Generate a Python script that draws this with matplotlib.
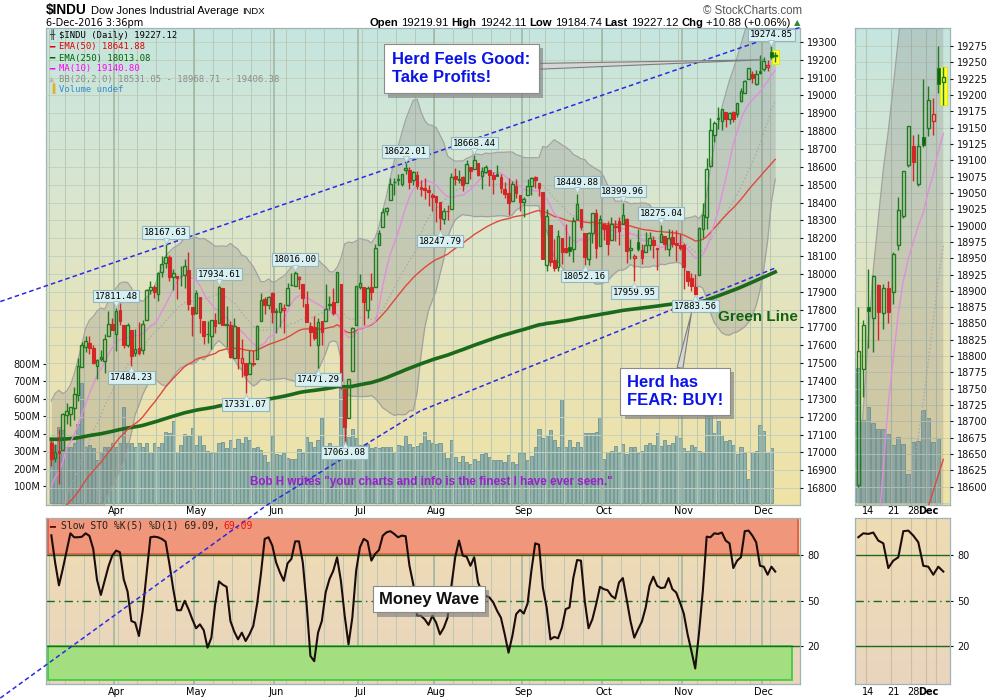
import numpy as np
import pandas as pd
import matplotlib
matplotlib.use("Agg")
from matplotlib import pyplot as plt
from matplotlib import patheffects as pe
from matplotlib.colors import LinearSegmentedColormap
from matplotlib.transforms import blended_transform_factory, offset_copy

plt.rcParams["font.family"] = "DejaVu Sans"

# ---------------- data ----------------
# trading days on the chart (NYSE holidays skipped)
holidays = ["2016-03-25", "2016-05-30", "2016-07-04", "2016-09-05", "2016-11-24"]
dates = pd.bdate_range("2016-03-08", "2016-12-06", freq="C", holidays=holidays)

opens = [
    # Mar
    17050, 16969, 17006, 17014, 17207, 17217, 17247, 17321, 17481, 17590, 17614, 17587, 17485, 17522, 17512, 17652, 17717,
    # Apr
    17661, 17799, 17716, 17604, 17687, 17555, 17586, 17571, 17741, 17912, 17926, 17890, 18012, 18059, 18092, 17985, 17990, 17987, 17996, 18023, 17813,
    # May
    17783, 17870, 17735, 17664, 17650, 17743, 17726, 17919, 17712, 17711, 17531, 17701, 17502, 17501, 17437, 17500, 17525, 17736, 17860, 17826, 17891,
    # Jun
    17789, 17789, 17799, 17825, 17936, 17931, 17969, 17946, 17830, 17710, 17703, 17602, 17734, 17736, 17827, 17844, 17844, 17946, 17355, 17190, 17456, 17712,
    # Jul
    17924, 17925, 17800, 17925, 17924, 18160, 18262, 18353, 18414, 18514, 18529, 18503, 18582, 18583, 18525, 18554, 18486, 18479, 18470, 18442,
    # Aug
    18434, 18401, 18307, 18355, 18362, 18548, 18529, 18542, 18507, 18598, 18586, 18621, 18547, 18573, 18584, 18552, 18559, 18541, 18473, 18455, 18409, 18495, 18442,
    # Sep
    18401, 18440, 18492, 18541, 18508, 18459, 18050, 18272, 18078, 18036, 18204, 18146, 18149, 18139, 18305, 18364, 18229, 18085, 18230, 18339, 18154,
    # Oct
    18279, 18275, 18188, 18265, 18295, 18282, 18308, 18132, 18088, 18177, 18135, 18125, 18162, 18189, 18140, 18176, 18215, 18139, 18207, 18173, 18163,
    # Nov
    18161, 18017, 17979, 17928, 17994, 18252, 18317, 18603, 18781, 18876, 18858, 18909, 18866, 18905, 18898, 18970, 19014, 19093, 19122, 19063, 19135,
    # Dec
    19150, 19160, 19242, 19219.91,
]
highs = [
    17072, 17048, 17130, 17220, 17275, 17252, 17364, 17529, 17620, 17650, 17654, 17603, 17521, 17575, 17664, 17790, 17751,
    17811.48, 17839, 17716, 17724, 17687, 17694, 17731, 17744, 17918, 17962, 17939, 18009, 18103, 18167.63, 18107, 18026, 17990, 18043, 18084, 18123, 17814,
    17912, 17870, 17738, 17736, 17744, 17783, 17934.61, 17919, 17821, 17734, 17755, 17701, 17633, 17501, 17571, 17571, 17714, 17891, 17871, 17874, 17899,
    17809, 17839, 17833, 17949, 18003, 18016.00, 17987, 17946, 17902, 17733, 17762, 17754, 17734, 17946, 17877, 17920, 18012, 17946, 17355, 17410, 17704, 17930,
    18002, 17925, 17934, 18005, 18166, 18248, 18370, 18373, 18537, 18539, 18560, 18561, 18622.01, 18600, 18574, 18575, 18527, 18538, 18498, 18455,
    18434, 18401, 18367, 18384, 18564, 18593, 18583, 18551, 18638, 18598, 18668.44, 18621, 18600, 18609, 18584, 18570, 18612, 18560, 18513, 18538, 18519, 18534, 18442,
    18432, 18534, 18541, 18549, 18508, 18459, 18366, 18272, 18196, 18246, 18204, 18280, 18211, 18318, 18449.88, 18364, 18229, 18236, 18340, 18365, 18331,
    18279, 18294, 18319, 18302, 18318, 18399.96, 18312, 18197, 18110, 18253, 18169, 18237, 18234, 18211, 18146, 18275.04, 18215, 18250, 18244, 18244, 18222,
    18173, 18017, 18006, 18000, 18264, 18400, 18650, 18875, 18856, 18934, 18925, 18910, 18910, 18915, 18960, 19043, 19084, 19153, 19138, 19140, 19225,
    19214, 19196, 19274.85, 19242.11,
]
lows = [
    16921, 16947, 16821, 17014, 17159, 17148, 17180, 17290, 17481, 17565, 17553, 17497, 17412, 17511, 17447, 17652, 17684,
    17569, 17713, 17584, 17588, 17484.23, 17538, 17547, 17553, 17741, 17885, 17867, 17848, 17984, 18031, 17963, 17909, 17860, 17931, 17920, 17799, 17651,
    17773, 17670, 17609, 17615, 17580, 17668, 17726, 17711, 17590, 17531, 17531, 17469, 17420, 17331.07, 17437, 17484, 17525, 17736, 17773, 17806, 17724,
    17668, 17703, 17669, 17822, 17936, 17931, 17915, 17812, 17731, 17595, 17629, 17471.29, 17602, 17736, 17799, 17770, 17844, 17356, 17063.08, 17190, 17456, 17711,
    17916, 17713, 17752, 17853, 17924, 18160, 18262, 18330, 18414, 18443, 18497, 18491, 18560, 18478, 18500, 18473, 18436, 18420, 18381, 18354,
    18293, 18247.79, 18280, 18300, 18362, 18500, 18512, 18463, 18507, 18534, 18586, 18550, 18476, 18567, 18491, 18448, 18547, 18453, 18423, 18330, 18409, 18428, 18354,
    18319, 18440, 18440, 18483, 18438, 18085, 18019, 18044, 18015, 18016, 18058, 18115, 18102, 18069, 18305, 18248, 18052.16, 18049, 18172, 18090, 18154,
    18192, 18108, 18188, 18185, 18163, 18282, 18061, 18082, 17959.95, 18130, 18055, 18125, 18135, 18089, 18023, 18176, 18133, 18100, 18151, 18072, 18134,
    17917, 17931, 17905, 17883.56, 17994, 18200, 18252, 18600, 18737, 18813, 18806, 18825, 18842, 18851, 18880, 18962, 19011, 19090, 19069, 19060, 19120,
    19137, 19139, 19203, 19184.74,
]
closes = [
    16964.10, 17000.36, 16995.13, 17213.31, 17229.13, 17251.53, 17325.76, 17481.49, 17602.30, 17623.87, 17582.57, 17502.59, 17515.73, 17535.39, 17633.11, 17716.66, 17685.09,
    17792.75, 17737.00, 17603.32, 17716.05, 17541.96, 17576.96, 17556.41, 17721.25, 17908.28, 17926.43, 17897.46, 18004.16, 18053.60, 18096.27, 17982.52, 18003.75, 17977.24, 17990.32, 18041.55, 17830.76, 17773.64,
    17891.16, 17750.91, 17651.26, 17660.71, 17740.63, 17705.91, 17928.35, 17711.12, 17720.50, 17535.32, 17710.71, 17529.98, 17526.62, 17435.40, 17500.94, 17492.93, 17706.05, 17851.51, 17828.29, 17873.22, 17787.20,
    17789.67, 17838.56, 17807.06, 17920.33, 17938.28, 18005.05, 17985.19, 17865.34, 17732.48, 17674.82, 17640.17, 17733.10, 17675.16, 17804.87, 17829.73, 17780.83, 18011.07, 17400.75, 17140.24, 17409.72, 17694.68, 17929.99,
    17949.37, 17840.62, 17918.62, 17895.88, 18146.74, 18226.93, 18347.67, 18372.12, 18506.41, 18516.55, 18533.05, 18559.01, 18595.03, 18517.23, 18570.85, 18493.06, 18473.75, 18472.17, 18456.35, 18432.24,
    18404.51, 18313.77, 18355.00, 18352.05, 18543.53, 18529.29, 18533.05, 18495.66, 18613.52, 18576.47, 18636.05, 18552.02, 18573.94, 18597.70, 18552.57, 18529.42, 18547.30, 18481.48, 18448.41, 18395.40, 18502.99, 18454.30, 18400.88,
    18419.30, 18491.96, 18538.12, 18526.14, 18479.91, 18085.45, 18325.07, 18066.75, 18034.77, 18212.48, 18123.80, 18120.17, 18129.96, 18293.70, 18392.46, 18261.45, 18094.83, 18228.30, 18339.24, 18143.45, 18308.15,
    18253.85, 18168.45, 18281.03, 18268.50, 18240.49, 18329.04, 18128.66, 18144.20, 18098.94, 18138.38, 18086.40, 18161.94, 18202.62, 18162.35, 18145.71, 18223.03, 18169.27, 18199.33, 18169.68, 18161.19, 18142.42,
    18037.10, 17959.64, 17930.67, 17888.28, 18259.60, 18332.74, 18589.69, 18807.88, 18847.66, 18868.69, 18923.06, 18868.14, 18903.82, 18867.93, 18956.69, 19023.87, 19083.18, 19152.14, 19097.90, 19121.60, 19123.58,
    19191.93, 19170.42, 19216.24, 19227.12,
]
# volume in millions, today's volume is undefined
volume_m = [
    364, 335, 440, 420, 326, 326, 345, 456, 689, 326, 335, 316, 250, 297, 326, 326, 348,
    326, 348, 551, 345, 348, 326, 348, 326, 348, 297, 348, 326, 345, 412, 406, 475, 297, 335, 400, 389, 433,
    335, 395, 335, 302, 290, 297, 345, 354, 316, 364, 316, 368, 345, 379, 364, 316, 322, 307, 280, 236, 389,
    286, 280, 290, 263, 257, 257, 311, 290, 379, 354, 322, 364, 488, 311, 345, 326, 290, 660, 440, 382, 426, 374,
    335, 335, 341, 316, 326, 316, 326, 322, 326, 297, 335, 330, 389, 341, 326, 330, 348, 412, 364, 345,
    341, 345, 297, 263, 364, 267, 239, 271, 236, 226, 257, 244, 286, 290, 267, 248, 248, 248, 239, 280, 239, 226, 290,
    290, 248, 271, 326, 425, 374, 395, 422, 364, 322, 597, 322, 364, 326, 354, 326, 406, 402, 406, 410, 494,
    252, 297, 302, 330, 290, 341, 286, 322, 322, 290, 302, 335, 345, 335, 406, 330, 364, 335, 345, 395, 374,
    316, 302, 335, 326, 302, 297, 600, 660, 406, 470, 390, 360, 362, 334, 285, 322, 288, 143, 295, 300, 452,
    414, 295, 317, np.nan,
]
# Slow STO %K(5) %D(1)
sto_k = [
    93, 75, 60, 70.8, 82.6, 94.3, 91.7, 91.7, 92, 94.3,
    92.6, 84, 63.5, 53.7, 63, 72.5, 79.6, 82.9, 81.8, 64,
    56, 36.5, 35.4, 26.6, 43.6, 67.4, 91.7, 92.1, 91.7, 90.6,
    88.8, 74, 57.5, 43.6, 43.6, 49.8, 44.3, 37.6, 31.7, 34.3,
    30.4, 18.9, 25.5, 47.6, 62.6, 60.4, 59, 36.5, 29.5, 24.4,
    28.8, 23.3, 27.7, 33.2, 47.6, 67.4, 90.6, 91.7, 86.2, 75.1,
    68.5, 63, 74.5, 77.4, 89, 89, 75.1, 47.6, 13.4, 10,
    28.8, 36.5, 55.3, 64.1, 69.6, 78.5, 63, 39.9, 21.1, 38.7,
    69.6, 85.1, 90.6, 89, 76.3, 80.7, 83.3, 92.8, 95, 95.7,
    93.9, 91.7, 92.8, 92.4, 72.9, 60.8, 40, 39.9, 37.6, 33.9,
    39.9, 35.4, 27.7, 32, 38.7, 59.7, 78.5, 89.5, 79.6, 78.9,
    72.9, 78.5, 61.9, 56, 53.1, 52, 48.7, 43.2, 38.7, 27.7,
    15.6, 26.6, 41, 43.8, 41.4, 48, 69.6, 87.7, 86.8, 58.6,
    45.4, 24.4, 26, 25.1, 32.1, 44.3, 45.4, 64.8, 76.7, 76.3,
    49.8, 31.7, 37.6, 47.6, 59, 57.5, 56.8, 53.1, 51.3, 61.9,
    64.8, 50.9, 36.5, 25.5, 31, 36.1, 45.4, 59.7, 65.7, 59.7,
    58.2, 58.6, 64.8, 57.5, 55.3, 48.7, 41.4, 27.7, 16.7, 5.2,
    28.8, 56.4, 92.1, 91.7, 94.3, 93.9, 94.8, 89.5, 87.7, 71.4,
    76.3, 78.5, 95.7, 96.1, 92.8, 88.4, 72.9, 72.3, 67, 72.3,
    69.09,
]
# closes before the window, only used to warm up MA(10) and BB(20)
closes_before = [16027.05, 16014.38, 15914.74, 15660.18, 15973.84, 16196.41, 16453.83, 16413.43, 16391.99, 16620.66,
                 16431.78, 16484.99, 16697.29, 16639.97, 16516.50, 16865.08, 16899.32, 16943.90, 17006.77, 17073.95]
ema50_start = 16620
ema250_start = 17075

peak_dates = ["2016-04-01", "2016-04-20", "2016-05-10", "2016-06-08", "2016-07-20", "2016-08-15",
              "2016-09-22", "2016-10-10", "2016-10-24", "2016-12-05"]
trough_dates = ["2016-04-07", "2016-05-19", "2016-06-16", "2016-06-27", "2016-08-02", "2016-09-26",
                "2016-10-13", "2016-11-04"]

# hand drawn trend lines (day position, price)
upper_trend_x = [-13.4, 197]
upper_trend_y = [17845, 19385]
lower_trend_x = [-13.4, 56.6, 96.8, 190]
lower_trend_y = [15623, 16705, 17232, 18033]

mini_days = 18
mini_ticks = [("2016-11-14", "14"), ("2016-11-21", "21"), ("2016-11-28", "28"), ("2016-12-01", "Dec")]

# ---------------- derived ----------------
n = len(closes)
x = np.arange(n)
o, h, l, c = (np.array(v, dtype=float) for v in (opens, highs, lows, closes))
vol = np.array(volume_m, dtype=float)
sto = np.array(sto_k, dtype=float)

allc = pd.Series(closes_before + closes)
k0 = len(closes_before)
ma10 = allc.rolling(10).mean().values[k0:]
bb_mid = allc.rolling(20).mean().values[k0:]
bb_sd = allc.rolling(20).std(ddof=0).values[k0:]
bb_up = bb_mid + 2 * bb_sd
bb_lo = bb_mid - 2 * bb_sd
ema50 = pd.Series([ema50_start] + closes).ewm(span=50, adjust=False).mean().values[1:]
ema250 = pd.Series([ema250_start] + closes).ewm(span=250, adjust=False).mean().values[1:]

wk = dates.isocalendar().week.values
week_starts = [i for i in range(n) if i == 0 or wk[i] != wk[i - 1]]
month_starts = [i for i in range(1, n) if dates[i].month != dates[i - 1].month]

GREEN = "#1e7b1e"
GREEN_FILL = "#0d650d"
RED = "#d42626"

# ---------------- figure ----------------
W, H = 1000, 700
fig = plt.figure(figsize=(W / 100, H / 100), dpi=100)
fig.patch.set_facecolor("white")
renderer = fig.canvas.get_renderer()


def frame(x0, y0, x1, y1):
    return [x0 / W, 1 - y1 / H, (x1 - x0) / W, (y1 - y0) / H]


def background(ax, colors):
    cmap = LinearSegmentedColormap.from_list("bg", colors)
    ax.imshow(np.linspace(0, 1, 256).reshape(-1, 1), cmap=cmap, aspect="auto",
              extent=[0, 1, 0, 1], transform=ax.transAxes, zorder=0, interpolation="bilinear")


def vgrid(ax, lo, hi):
    for i in week_starts:
        if lo <= i <= hi:
            ax.axvline(i - 0.5, color="#b9c8b6", lw=0.7, zorder=0.6)
    for i in month_starts:
        if lo <= i <= hi:
            ax.axvline(i - 0.5, color="#9fb49f", lw=1.1, zorder=0.6)


def style(ax, edge="#9eb4b8"):
    for sp in ax.spines.values():
        sp.set_color(edge)
        sp.set_linewidth(0.9)
    ax.tick_params(axis="x", bottom=False, labelbottom=False)


def draw_candles(ax, s, width, shift=0):
    xs = x[s] - shift
    oo, hh, ll, cc = o[s], h[s], l[s], c[s]
    prev = np.r_[o[0], c[:-1]][s]
    up = cc >= prev
    edge = np.where(up, GREEN, RED)
    top = np.maximum(oo, cc)
    bot = np.minimum(oo, cc)
    ax.vlines(xs, top, hh, colors=edge, lw=1, zorder=4)
    ax.vlines(xs, ll, bot, colors=edge, lw=1, zorder=4)
    body = np.maximum(top - bot, 1.5)
    hollow = cc >= oo
    fill = np.where(up, GREEN_FILL, RED)
    ax.bar(xs[hollow], body[hollow], bottom=bot[hollow], width=width, facecolor="none",
           edgecolor=edge[hollow], lw=1, zorder=4)
    ax.bar(xs[~hollow], body[~hollow], bottom=bot[~hollow], width=width, color=fill[~hollow],
           edgecolor=edge[~hollow], lw=0.8, zorder=4)


def draw_volume(ax, s, shift=0):
    vv = vol[s]
    ok = np.isfinite(vv)
    ax.bar((x[s] - shift)[ok], vv[ok], width=0.82, color="#93b4ae", edgecolor="#6d948e", lw=0.6, zorder=2)


def draw_indicators(ax, s, shift=0):
    xs = x[s] - shift
    ax.fill_between(xs, bb_lo[s], bb_up[s], color="#7f7f7f", alpha=0.26, lw=0, zorder=1)
    ax.plot(xs, bb_up[s], color="#a2a2a2", lw=0.9, zorder=1.2)
    ax.plot(xs, bb_lo[s], color="#a2a2a2", lw=0.9, zorder=1.2)
    ax.plot(xs, bb_mid[s], color="#a9a9a9", lw=1, ls=":", zorder=1.2)
    ax.plot(xs, ema250[s], color="#1b6a1b", lw=2.6, zorder=2)
    ax.plot(xs, ema50[s], color="#e0483e", lw=1, zorder=2)
    ax.plot(xs, ma10[s], color="#e28ede", lw=1, zorder=2)


def text_runs(x_px, y_px, runs, align="left", gap=3):
    items = [fig.text(0, 1 - y_px / H, s, va="baseline", zorder=10, **kw) for s, kw in runs]
    widths = [t.get_window_extent(renderer).width for t in items]
    total = sum(widths) + gap * (len(items) - 1)
    cur = x_px - total if align == "right" else x_px
    for t, w in zip(items, widths):
        t.set_x(cur / W)
        cur += w + gap


def date_labels(ax, positions, labels, y_px, bold=()):
    tr = blended_transform_factory(ax.transData, fig.transFigure)
    for p, s in zip(positions, labels):
        ax.text(p, 1 - y_px / H, s, transform=tr, ha="center", va="center", fontsize=7,
                weight="bold" if s in bold else "normal", clip_on=False, zorder=10)


def flag(ax, i, value, above):
    dy = 5 if above else -5
    ax.annotate(f"{value:.2f}", xy=(i, value), xytext=(0, dy), textcoords="offset points",
                ha="center", va="bottom" if above else "top", fontsize=6.5, family="DejaVu Sans Mono",
                bbox=dict(boxstyle="square,pad=0.2", fc="#d8f0f1", ec="#94b6bd", lw=0.8), zorder=6)
    ax.plot(i, value, marker="v" if above else "^", ms=5, mfc="#d8f0f1", mec="#a9c6cc", mew=0.6,
            transform=offset_copy(ax.transData, fig=fig, y=2.5 if above else -2.5, units="points"),
            zorder=6.5, clip_on=False)


def boxed(t):
    t.get_bbox_patch().set_path_effects([pe.withSimplePatchShadow(offset=(3, -3), shadow_rgbFace="#7a7a7a", alpha=0.6)])


# ---- main panel ----
axv = fig.add_axes(frame(46, 28, 800, 505))
axp = fig.add_axes(frame(46, 28, 800, 505), sharex=axv)
axv.set_zorder(1)
axp.set_zorder(3)
axp.patch.set_visible(False)

background(axv, ["#c5e5df", "#d8e6d0", "#e8e3b8", "#efe2a5"])
draw_volume(axv, slice(0, n))
axv.set_ylim(-9, 2727)
axv.set_yticks([100, 200, 300, 400, 500, 600, 700, 800])
axv.set_yticklabels([f"{v}M" for v in range(100, 900, 100)])
axv.tick_params(axis="y", length=2, pad=2, labelsize=7, colors="#111111")
style(axv)

for p in range(16800, 19400, 100):
    axp.axhline(p, color="#c3d1c0", lw=0.7, zorder=0.5)
vgrid(axp, 0, n)
draw_indicators(axp, slice(0, n))
axp.bar(n - 1, h[-1] - l[-1] + 20, bottom=l[-1] - 10, width=1.9, color="#ffff33", edgecolor="#e6e600", lw=0.6, zorder=3.8)
draw_candles(axp, slice(0, n), 0.7)

for d in peak_dates:
    i = dates.get_loc(pd.Timestamp(d))
    flag(axp, i, h[i], True)
for d in trough_dates:
    i = dates.get_loc(pd.Timestamp(d))
    flag(axp, i, l[i], False)

axp.plot(upper_trend_x, upper_trend_y, color="#2a2ae6", lw=1.1, ls=(0, (3, 2)), clip_on=False, zorder=3.5)
axp.plot(lower_trend_x, lower_trend_y, color="#2a2ae6", lw=1.1, ls=(0, (3, 2)), clip_on=False, zorder=3.5)

axp.set_xlim(-1.4, 196.5)
axp.set_ylim(16705, 19378)
axp.yaxis.tick_right()
axp.set_yticks(range(16800, 19400, 100))
axp.tick_params(axis="y", length=2, pad=3, labelsize=7, colors="#111111")
axp.tick_params(axis="y", left=False, labelleft=False)
for sp in axp.spines.values():
    sp.set_visible(False)
axp.tick_params(axis="x", bottom=False, labelbottom=False)

# annotations
t = axp.annotate("Herd Feels Good:\nTake Profits!", xy=(187, 19200), xytext=(0.459, 0.915),
                 textcoords="axes fraction", ha="left", va="center", fontsize=12, weight="bold",
                 color="#0a14e6", family="Liberation Sans", linespacing=1.25,
                 bbox=dict(boxstyle="square,pad=0.5", fc="white", ec="#8a8a8a", lw=0.8),
                 arrowprops=dict(arrowstyle="wedge,tail_width=0.35,shrink_factor=0.5", fc="#d6d6d6",
                                 ec="#7c7c7c", lw=0.8, shrinkA=0, shrinkB=0), zorder=7)
boxed(t)
t = axp.annotate("Herd has\nFEAR: BUY!", xy=(168, 17781), xytext=(0.7706, 0.238),
                 textcoords="axes fraction", ha="left", va="center", fontsize=12, weight="bold",
                 color="#0a14e6", family="Liberation Sans", linespacing=1.25,
                 bbox=dict(boxstyle="square,pad=0.4", fc="white", ec="#8a8a8a", lw=0.8),
                 arrowprops=dict(arrowstyle="wedge,tail_width=0.35,shrink_factor=0.5", fc="#d6d6d6",
                                 ec="#7c7c7c", lw=0.8, shrinkA=0, shrinkB=0), zorder=7)
boxed(t)
axp.text(0.9436, 0.395, "Green Line", transform=axp.transAxes, ha="center", va="center", fontsize=11,
         weight="bold", color="#0f650f", family="Liberation Sans", zorder=7)
axp.text(0.2706, 0.048, "Bob H writes \"your charts and info is the finest I have ever seen.\"",
         transform=axp.transAxes, ha="left", va="center", fontsize=8.4, weight="bold",
         color="#9a1fc8", family="Liberation Sans", zorder=7)

# ---- lower panel: Slow STO ----
axs = fig.add_axes(frame(46, 518, 800, 684), sharex=axv)
axs.set_zorder(1)
background(axs, ["#efdcb3", "#e9d5bf"])
axs.axhspan(80.6, 104.2, xmin=0.002, xmax=0.998, fc="#f0967a", ec="#e55b48", lw=1.3, zorder=1)
axs.axhspan(-2.4, 20, xmin=0.002, xmax=0.99, fc="#a3df80", ec="#3fcf3f", lw=1.3, zorder=1)
vgrid(axs, 0, n)
axs.axhline(80, color="#1d6a1d", lw=1, zorder=2)
axs.axhline(20, color="#1d6a1d", lw=1, zorder=2)
axs.axhline(50, color="#1d6a1d", lw=1, ls=(0, (6, 3, 1, 3)), zorder=2)
axs.plot(x, sto, color="#1c0c0c", lw=1.5, zorder=3)
axs.set_ylim(-5.05, 104.4)
axs.yaxis.tick_right()
axs.set_yticks([20, 50, 80])
axs.tick_params(axis="y", length=2, pad=3, labelsize=7, colors="#111111")
style(axs)
t = axs.text(0.508, 0.512, "Money Wave", transform=axs.transAxes, ha="center", va="center", fontsize=12,
             weight="bold", color="#111111", family="Liberation Sans",
             bbox=dict(boxstyle="square,pad=0.35", fc="white", ec="#8a8a8a", lw=0.8), zorder=7)
boxed(t)
axv.set_xlim(-1.4, 196.5)

month_lbl = [dates[i].strftime("%b") for i in month_starts]
date_labels(axp, month_starts, month_lbl, 511.5)
date_labels(axs, month_starts, month_lbl, 692)

# ---- mini panels (last weeks) ----
m0 = n - mini_days
ms_ = slice(m0, n)
mv = fig.add_axes(frame(855, 28, 950, 505))
mp = fig.add_axes(frame(855, 28, 950, 505), sharex=mv)
mv.set_zorder(1)
mp.set_zorder(3)
mp.patch.set_visible(False)
background(mv, ["#c5e5df", "#d8e6d0", "#e8e3b8", "#efe2a5"])
draw_volume(mv, ms_, shift=m0)
mv.set_ylim(-10, 2317)
mv.set_yticks([])
style(mv)

for p in range(18575, 19300, 25):
    mp.axhline(p, color="#c3d1c0", lw=0.7, zorder=0.5)
for i in range(m0, n):
    if i in week_starts or i in month_starts:
        mp.axvline(i - m0 - 0.5, color="#b4c4b2", lw=0.8, zorder=0.6)
draw_indicators(mp, ms_, shift=m0)
mp.bar(n - 1 - m0, h[-1] - l[-1], bottom=l[-1], width=1.4, color="#ffff33", edgecolor="#e6e600", lw=0.6, zorder=3.8)
draw_candles(mp, ms_, 0.66, shift=m0)
mp.set_xlim(-0.66, 18.34)
mp.set_ylim(18572, 19302.6)
mp.yaxis.tick_right()
mp.set_yticks(range(18600, 19300, 25))
mp.tick_params(axis="y", length=2, pad=3, labelsize=7, colors="#111111")
mp.tick_params(axis="y", left=False, labelleft=False)
mp.tick_params(axis="x", bottom=False, labelbottom=False)
for sp in mp.spines.values():
    sp.set_visible(False)

mss = fig.add_axes(frame(855, 518, 950, 684), sharex=mv)
background(mss, ["#efdcb3", "#e9d5bf"])
for i in range(m0, n):
    if i in week_starts or i in month_starts:
        mss.axvline(i - m0 - 0.5, color="#c9bea6", lw=0.8, zorder=0.6)
mss.axhline(80, color="#1d6a1d", lw=1, zorder=2)
mss.axhline(20, color="#1d6a1d", lw=1, zorder=2)
mss.axhline(50, color="#1d6a1d", lw=1, ls=(0, (6, 3, 1, 3)), zorder=2)
mss.plot(x[ms_] - m0, sto[ms_], color="#1c0c0c", lw=1.5, zorder=3)
mss.set_ylim(-5.05, 104.4)
mss.yaxis.tick_right()
mss.set_yticks([20, 50, 80])
mss.tick_params(axis="y", length=2, pad=3, labelsize=7, colors="#111111")
style(mss)
mv.set_xlim(-0.66, 18.34)

mpos = [dates.get_loc(pd.Timestamp(d)) - m0 for d, _ in mini_ticks]
mlbl = [s for _, s in mini_ticks]
date_labels(mp, mpos, mlbl, 511.5, bold=("Dec",))
date_labels(mss, mpos, mlbl, 692, bold=("Dec",))

# ---- header and legends ----
text_runs(46, 14, [("$INDU", dict(fontsize=9.8, weight="bold", family="Liberation Sans")),
                   ("Dow Jones Industrial Average", dict(fontsize=8, family="Liberation Sans")),
                   ("INDX", dict(fontsize=6.8, family="Liberation Sans"))], gap=4)
fig.text(46 / W, 1 - 25.5 / H, "6-Dec-2016 3:36pm", fontsize=7, va="baseline", zorder=10)
fig.text(802 / W, 1 - 14 / H, "\u00a9 StockCharts.com", fontsize=8.3, color="#555555", ha="right",
         va="baseline", family="Liberation Sans", zorder=10)
bold = dict(fontsize=8.1, weight="bold", family="Liberation Sans")
norm = dict(fontsize=8.1, family="Liberation Sans")
text_runs(800, 25.5, [("Open", bold), ("19219.91", norm), ("High", bold), ("19242.11", norm),
                      ("Low", bold), ("19184.74", norm), ("Last", bold), ("19227.12", norm),
                      ("Chg", bold), ("+10.88 (+0.06%)", norm),
                      ("\u25b2", dict(fontsize=6, color="#2e8b2e", family="DejaVu Sans"))], align="right", gap=3)

mono = "DejaVu Sans Mono"
legend_rows = [
    ("\u256b", "#222222", "$INDU (Daily) 19227.12", "#000000", 38.5),
    ("\u2501", "#e00000", "EMA(50) 18641.88", "#e00000", 49.5),
    ("\u2501", "#006400", "EMA(250) 18013.08", "#006400", 60.5),
    ("\u2501", "#ff00ff", "MA(10) 19140.80", "#ff00ff", 71.5),
    ("\u25b2", "#b8b8b8", "BB(20,2.0) 18531.05 - 18968.71 - 19406.38", "#8c8c8c", 82),
    ("\u2590", "#e0b030", "Volume undef", "#3a8ad0", 92.5),
]
for icon, icol, label, lcol, yb in legend_rows:
    fig.text(49 / W, 1 - yb / H, icon, color=icol, fontsize=6.4, family=mono, va="baseline", zorder=10)
    fig.text(59 / W, 1 - yb / H, label, color=lcol, fontsize=6.4, family=mono, va="baseline", zorder=10)

fig.text(49 / W, 1 - 529 / H, "\u2501", color="#5a0a0a", fontsize=7, family=mono, va="baseline", zorder=10)
text_runs(61, 529, [("Slow STO %K(5) %D(1) 69.09,", dict(fontsize=7, family=mono, color="#222222")),
                    ("69.09", dict(fontsize=7, family=mono, color="#ee1111"))], gap=4)

fig.savefig("out.png", dpi=100, facecolor="white")
